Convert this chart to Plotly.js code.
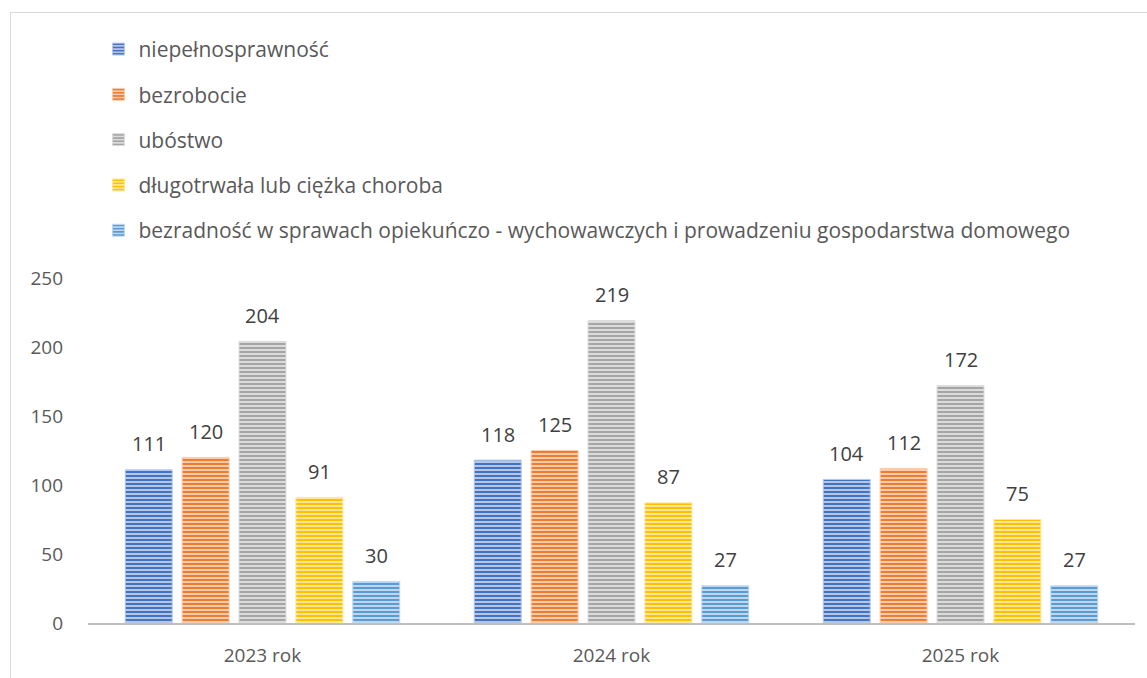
<!DOCTYPE html>
<html><head><meta charset="utf-8">
<script src="https://cdn.plot.ly/plotly-3.0.1.min.js"></script>
<style>body{margin:0;background:#fff}#c{width:1147px;height:678px;position:relative}
#frame{position:absolute;left:10px;top:12px;width:1200px;height:700px;border-left:1.5px solid #d9d9d9;border-top:1.5px solid #d9d9d9;pointer-events:none}</style>
</head><body><div id="c"></div><div id="frame"></div>
<script>
const categories = ["2023 rok", "2024 rok", "2025 rok"];
const seriesNames = ["niepełnosprawność", "bezrobocie", "ubóstwo", "długotrwała lub ciężka choroba", "bezradność w sprawach opiekuńczo - wychowawczych i prowadzeniu gospodarstwa domowego"];
const niepelnosprawnosc = [111, 118, 104];
const bezrobocie = [120, 125, 112];
const ubostwo = [204, 219, 172];
const choroba = [91, 87, 75];
const bezradnosc = [30, 27, 27];
const yTicks = [0, 50, 100, 150, 200, 250];

const values = [niepelnosprawnosc, bezrobocie, ubostwo, choroba, bezradnosc];
const colors = ["#4472C4", "#ED7D31", "#A5A5A5", "#FFC000", "#5B9BD5"];
const lights = ["#b4c7e7", "#f8cbad", "#dbdbdb", "#ffe699", "#bdd7ee"];
const FONT = "'Open Sans', sans-serif";
const BARGAP = 0.185, GROUPGAP = 0.175;

const traces = values.map((v, i) => ({
  type: "bar", x: categories, y: v, name: seriesNames[i], legendgroup: "g" + i,
  marker: {color: colors[i], line: {color: lights[i], width: 1},
    pattern: {shape: "-", fgcolor: colors[i], bgcolor: lights[i], size: 4, solidity: 0.5, fillmode: "replace"}},
  hoverinfo: "skip"
}));

// data labels placed above each bar (position derived from the group layout)
const slot = (1 - BARGAP) / values.length;
const annotations = [];
values.forEach((v, i) => v.forEach((val, c) => {
  annotations.push({xref: "x", yref: "y", x: c - (1 - BARGAP) / 2 + slot * (i + 0.5), y: val,
    text: String(val), showarrow: false, yanchor: "middle", yshift: 26,
    font: {family: FONT, size: 20, color: "#404040"}});
}));

const layout = {
  width: 1147, height: 678,
  margin: {l: 88, r: 12, t: 278, b: 55},
  paper_bgcolor: "#fff", plot_bgcolor: "#fff",
  barmode: "group", bargap: BARGAP, bargroupgap: GROUPGAP,
  font: {family: FONT, color: "#595959"},
  showlegend: true,
  annotations: annotations,
  legend: {x: 0.01, y: 1.722, xanchor: "left", yanchor: "top", orientation: "v",
    font: {family: FONT, size: 21, color: "#595959"}, tracegroupgap: 15,
    itemwidth: 30, bgcolor: "rgba(0,0,0,0)"},
  xaxis: {type: "category", showgrid: false, showline: true, linecolor: "#bfbfbf", linewidth: 2,
    ticks: "", ticklabelstandoff: 14, tickfont: {family: FONT, size: 19, color: "#595959"}, zeroline: false},
  yaxis: {range: [0, 250], tickvals: yTicks, ticktext: yTicks.map(String), showgrid: false,
    showline: false, zeroline: false, ticks: "", ticklabelstandoff: 24,
    tickfont: {family: FONT, size: 19, color: "#595959"}}
};
Plotly.newPlot("c", traces, layout, {displayModeBar: false, staticPlot: true});
</script></body></html>
